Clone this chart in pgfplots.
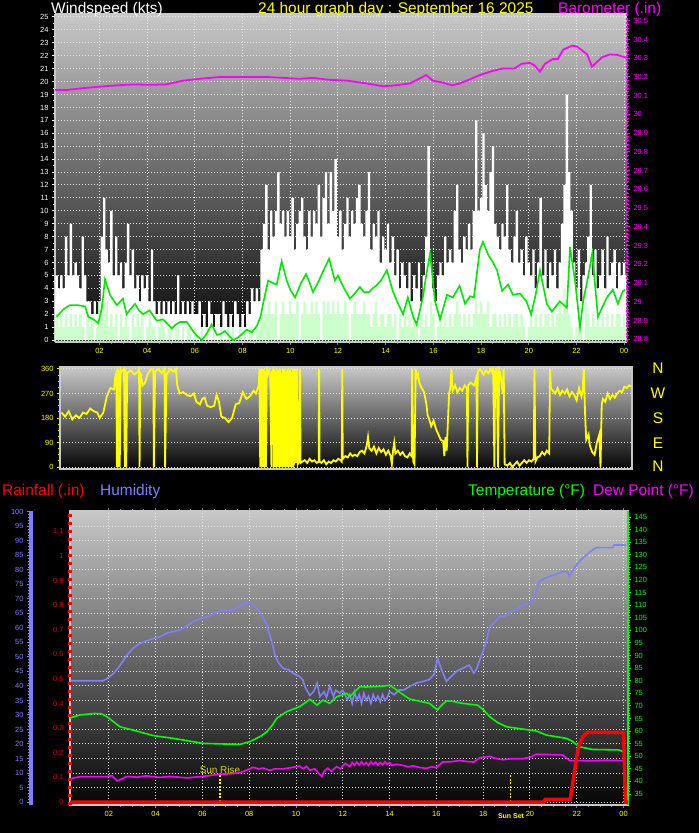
\documentclass[border=0pt]{standalone}
\usepackage{pgfplots}
\pgfplotsset{compat=1.18}
\usepackage{pgfplotstable}
\usepackage{fontspec}
\setmainfont{Liberation Sans}

\definecolor{gustc}{RGB}{255,255,255}
\definecolor{windc}{RGB}{204,255,204}
\definecolor{avgc}{RGB}{0,230,0}
\definecolor{baroc}{RGB}{255,0,255}
\definecolor{yel}{RGB}{255,255,0}
\definecolor{humc}{RGB}{128,128,255}
\definecolor{rainc}{RGB}{255,0,0}
\definecolor{raintxt}{RGB}{215,0,0}
\definecolor{tempc}{RGB}{0,255,0}
\definecolor{dewc}{RGB}{255,0,255}
\definecolor{gridc}{RGB}{230,230,230}
\definecolor{bgtop}{RGB}{200,200,200}
\definecolor{bgbot}{RGB}{5,5,5}
\definecolor{framec}{RGB}{200,200,200}

\newcommand{\tickfont}{\fontsize{7.5}{8}\selectfont}
\newcommand{\headfont}{\fontsize{15.5}{17}\selectfont}

\pgfplotsset{
  panel/.style={
    scale only axis, anchor=north west,
    axis background/.style={top color=bgtop, bottom color=bgbot},
    grid=major,
    grid style={gridc, dash pattern=on 1bp off 2bp, line width=1bp},
    tick label style={font=\tickfont},
    tick align=outside,
    /pgf/number format/assume math mode=true,
  },
  overlay/.style={
    scale only axis, anchor=north west, hide x axis,
    tick label style={font=\tickfont},
    tick align=outside,
    /pgf/number format/assume math mode=true,
  },
}

% wind: time (h), gust (g), speed (w), kts
\pgfplotstableread[row sep=\\]{
h g w\\
0.1 3 1\\ 0.2 5 2\\ 0.3 4 1\\ 0.4 5 2\\ 0.5 4 1\\ 0.6 8 2\\ 0.7 5 1\\ 0.8 9 2\\ 0.9 5 1\\
1.0 6 2\\ 1.1 5 1\\ 1.2 4 2\\ 1.3 8 1\\ 1.4 5 0\\ 1.5 3 2\\ 1.6 3 1\\ 1.7 2 2\\ 1.8 3 0\\ 1.9 2 1\\
2.0 3 3\\ 2.1 8 3\\ 2.2 11 2\\ 2.3 7 3\\ 2.4 6 1\\ 2.5 10 2\\ 2.6 5 1\\ 2.7 8 2\\ 2.8 5 0\\ 2.9 6 2\\
3.0 4 1\\ 3.1 6 2\\ 3.2 9 1\\ 3.3 5 0\\ 3.4 7 2\\ 3.5 4 1\\ 3.6 5 2\\ 3.7 3 1\\ 3.8 5 2\\ 3.9 4 0\\
4.0 5 1\\ 4.1 3 2\\ 4.2 7 1\\ 4.3 3 1\\ 4.4 2 0\\ 4.5 3 1\\ 4.6 2 2\\ 4.7 3 1\\ 4.8 2 0\\ 4.9 3 1\\
5.0 2 1\\ 5.1 3 0\\ 5.2 2 1\\ 5.3 5 1\\ 5.4 2 0\\ 5.5 3 1\\ 5.6 2 0\\ 5.7 3 1\\ 5.8 2 1\\ 5.9 3 0\\
6.0 2 1\\ 6.1 2 0\\ 6.2 3 0\\ 6.3 1 1\\ 6.4 2 0\\ 6.5 1 1\\ 6.6 3 0\\ 6.7 2 0\\ 6.8 1 1\\ 6.9 2 0\\
7.0 2 0\\ 7.1 1 1\\ 7.2 3 0\\ 7.3 2 0\\ 7.4 1 1\\ 7.5 2 0\\ 7.6 1 1\\ 7.7 3 0\\ 7.8 2 0\\ 7.9 1 1\\
8.0 2 0\\ 8.1 1 1\\ 8.2 3 0\\ 8.3 2 1\\ 8.4 4 1\\ 8.5 3 0\\ 8.6 4 1\\ 8.7 3 1\\ 8.8 7 2\\ 8.9 9 2\\
9.0 12 2\\ 9.1 7 3\\ 9.2 10 2\\ 9.3 8 2\\ 9.4 10 3\\ 9.5 13 0\\ 9.6 9 2\\ 9.7 10 3\\ 9.8 8 2\\ 9.9 10 2\\
10.0 8 3\\ 10.1 11 2\\ 10.2 7 2\\ 10.3 9 3\\ 10.4 10 0\\ 10.5 11 2\\ 10.6 8 3\\ 10.7 7 2\\ 10.8 10 2\\ 10.9 8 3\\
11.0 10 2\\ 11.1 9 3\\ 11.2 12 2\\ 11.3 8 0\\ 11.4 11 3\\ 11.5 13 2\\ 11.6 9 3\\ 11.7 13 2\\ 11.8 10 3\\ 11.9 14 2\\
12.0 8 3\\ 12.1 10 2\\ 12.2 7 2\\ 12.3 9 3\\ 12.4 11 2\\ 12.5 8 0\\ 12.6 10 2\\ 12.7 9 3\\ 12.8 11 2\\ 12.9 12 2\\
13.0 9 2\\ 13.1 8 3\\ 13.2 10 2\\ 13.3 13 2\\ 13.4 7 1\\ 13.5 9 2\\ 13.6 8 3\\ 13.7 10 1\\ 13.8 6 2\\ 13.9 8 2\\
14.0 7 1\\ 14.1 9 2\\ 14.2 6 2\\ 14.3 8 1\\ 14.4 5 2\\ 14.5 7 0\\ 14.6 4 2\\ 14.7 6 1\\ 14.8 5 2\\ 14.9 4 1\\
15.0 6 2\\ 15.1 3 1\\ 15.2 5 2\\ 15.3 4 1\\ 15.4 6 0\\ 15.5 3 2\\ 15.6 5 1\\ 15.7 8 2\\ 15.8 15 1\\ 15.9 6 3\\
16.0 4 2\\ 16.1 3 0\\ 16.2 5 1\\ 16.3 6 2\\ 16.4 5 1\\ 16.5 8 2\\ 16.6 6 1\\ 16.7 7 2\\ 16.8 6 1\\ 16.9 10 2\\
17.0 12 3\\ 17.1 7 2\\ 17.2 6 1\\ 17.3 8 2\\ 17.4 7 1\\ 17.5 9 2\\ 17.6 7 1\\ 17.7 10 2\\ 17.8 17 3\\ 17.9 10 2\\
18.0 11 3\\ 18.1 16 2\\ 18.2 12 2\\ 18.3 10 3\\ 18.4 13 1\\ 18.5 15 2\\ 18.6 9 2\\ 18.7 8 1\\ 18.8 7 2\\ 18.9 9 1\\
19.0 8 2\\ 19.1 12 1\\ 19.2 7 2\\ 19.3 6 1\\ 19.4 8 2\\ 19.5 10 2\\ 19.6 6 1\\ 19.7 7 2\\ 19.8 5 1\\ 19.9 8 0\\
20.0 6 1\\ 20.1 5 2\\ 20.2 7 1\\ 20.3 4 2\\ 20.4 6 1\\ 20.5 11 2\\ 20.6 5 1\\ 20.7 7 2\\ 20.8 4 2\\ 20.9 6 1\\
21.0 5 2\\ 21.1 7 1\\ 21.2 4 2\\ 21.3 6 3\\ 21.4 9 2\\ 21.5 12 4\\ 21.6 19 3\\ 21.7 13 2\\ 21.8 10 1\\ 21.9 6 0\\
22.0 4 1\\ 22.1 7 2\\ 22.2 3 1\\ 22.3 5 0\\ 22.4 6 3\\ 22.5 8 2\\ 22.6 12 1\\ 22.7 5 2\\ 22.8 7 1\\ 22.9 4 2\\
23.0 5 1\\ 23.1 7 2\\ 23.2 4 1\\ 23.3 8 2\\ 23.4 5 1\\ 23.5 6 2\\ 23.6 7 1\\ 23.7 4 2\\ 23.8 6 2\\ 23.9 5 1\\
24.0 6 2\\ 24.1 5 1\\
}\windtab

\begin{document}
\begin{tikzpicture}
\useasboundingbox (0,0) rectangle (699bp,-833bp);
\fill[black] (0,0) rectangle (699bp,-833bp);

% ---------------- top panel: wind speed + barometer
\begin{axis}[panel, at={(55bp,-14bp)}, width=572bp, height=328bp,
  xmin=0.134, xmax=24.12, ymin=-0.15, ymax=25.23,
  axis x line*=bottom, axis y line*=left,
  axis line style={framec, line width=1.5bp},
  xtick={2,4,...,24}, xticklabels={02,04,06,08,10,12,14,16,18,20,22,00},
  minor x tick num=3,
  ytick={0,...,25}, minor y tick num=1,
  x tick style={gray, line width=1bp},
  y tick style={white, line width=1bp},
  major tick length=3bp, minor tick length=2bp,
  xticklabel style={yel}, yticklabel style={white},
]
\addplot[const plot mark mid, fill=gustc, draw=none] table[x=h, y=g] {\windtab} \closedcycle;
\addplot[const plot mark mid, fill=windc, draw=none] table[x=h, y=w] {\windtab} \closedcycle;
\addplot[avgc, line width=1.6bp] coordinates {
(0.2,1.8)(0.5,2.4)(0.76,2.7)(1.1,2.7)(1.4,2.6)(1.53,1.8)(1.75,1.6)(1.95,1.3)(2.1,2.5)
(2.23,4.7)(2.44,3.5)(2.73,2.7)(2.98,3.2)(3.14,2.0)(3.3,2.4)(3.49,2.8)(3.65,2.3)(3.83,2.0)
(4.1,2.3)(4.4,1.5)(4.67,1.6)(5.03,0.9)(5.2,1.2)(5.37,1.4)(5.66,1.4)(5.92,0.7)(6.1,0.3)
(6.3,0.0)(6.5,0.5)(6.7,1.2)(6.93,0.4)(7.1,0.5)(7.26,0.7)(7.45,0.3)(7.6,0.0)(7.81,0.2)
(8.0,0.5)(8.18,0.8)(8.39,0.6)(8.6,1.1)(8.75,1.8)(8.86,2.8)(9.07,4.6)(9.28,4.4)(9.43,4.3)
(9.64,6.1)(9.85,4.6)(10.0,3.9)(10.2,3.3)(10.45,4.4)(10.66,5.1)(10.8,4.5)(10.95,3.7)
(11.15,4.4)(11.37,5.3)(11.63,6.3)(11.87,4.6)(12.0,5.0)(12.2,4.2)(12.5,3.2)(12.7,3.6)
(12.92,4.1)(13.1,3.7)(13.3,3.7)(13.45,4.0)(13.6,4.2)(13.8,4.6)(14.05,5.4)(14.3,3.8)
(14.5,2.9)(14.73,2.0)(14.93,3.3)(15.15,1.8)(15.3,1.2)(15.56,3.3)(15.7,5.0)(15.86,6.7)
(16.07,3.0)(16.28,1.6)(16.57,3.5)(16.82,3.3)(17.1,4.2)(17.33,2.8)(17.54,3.4)(17.7,3.3)
(17.95,7.0)(18.08,7.6)(18.3,6.6)(18.5,6.0)(18.67,5.4)(18.88,3.8)(19.13,4.3)(19.34,3.5)
(19.63,3.6)(19.9,3.0)(20.1,2.0)(20.3,3.6)(20.47,5.4)(20.76,2.8)(20.97,2.2)(21.3,3.0)
(21.6,2.5)(21.73,7.2)(21.94,4.6)(22.15,1.0)(22.28,3.0)(22.5,5.0)(22.66,6.7)(22.9,1.8)
(23.1,2.6)(23.28,3.3)(23.53,3.9)(23.74,2.8)(23.95,3.8)(24.05,3.9)
};
\end{axis}

\begin{axis}[overlay, at={(55bp,-14bp)}, width=572bp, height=328bp,
  xmin=0.134, xmax=24.12, ymin=28.785, ymax=30.536,
  axis y line*=right,
  axis line style={baroc, line width=1.5bp, dash pattern=on 2bp off 1.7bp},
  ytick={28.8,28.9,29,29.1,29.2,29.3,29.4,29.5,29.6,29.7,29.8,29.9,30,30.1,30.2,30.3,30.4,30.5},
  yticklabels={28.8,28.9,29,29.1,29.2,29.3,29.4,29.5,29.6,29.7,29.8,29.9,30,30.1,30.2,30.3,30.4,30.5},
  minor y tick num=4,
  tick style={baroc, line width=1bp}, major tick length=3bp, minor tick length=2bp,
  yticklabel style={baroc},
]
\addplot[baroc, line width=1.8bp] coordinates {
(0.13,30.13)(0.63,30.13)(1.3,30.14)(2.0,30.148)(2.7,30.155)(3.4,30.16)(4.1,30.158)
(4.8,30.16)(5.5,30.18)(6.2,30.19)(7.05,30.2)(8.0,30.2)(9.0,30.2)(9.7,30.195)(10.4,30.19)
(10.96,30.195)(11.6,30.185)(12.4,30.18)(13.2,30.165)(13.9,30.15)(14.4,30.155)(15.0,30.165)
(15.4,30.19)(15.7,30.21)(15.98,30.18)(16.4,30.17)(16.78,30.155)(17.1,30.165)(17.4,30.18)
(17.95,30.21)(18.5,30.233)(18.92,30.245)(19.4,30.245)(19.7,30.27)(20.05,30.275)
(20.26,30.26)(20.47,30.228)(20.68,30.27)(21.0,30.295)(21.22,30.295)(21.44,30.345)
(21.82,30.367)(22.02,30.362)(22.3,30.335)(22.45,30.32)(22.65,30.255)(22.78,30.27)
(23.07,30.305)(23.4,30.32)(23.7,30.318)(24.03,30.305)(24.1,30.3)
};
\end{axis}

% ---------------- middle panel: wind direction
\begin{axis}[panel, at={(60bp,-367bp)}, width=572bp, height=102bp,
  xmin=0.134, xmax=24.12, ymin=-7.3, ymax=367.3,
  xtick=\empty, xmajorgrids=false,
  ytick={0,90,180,270,360}, minor y tick num=3, ytick pos=left,
  axis line style={framec, line width=1.2bp},
  tick style={yel, line width=1bp}, major tick length=3bp, minor tick length=2bp,
  yticklabel style={yel},
]
\addplot[yel, line width=1.8bp] coordinates {
(0.2,200)(0.35,185)(0.5,205)(0.65,175)(0.8,190)(0.95,180)(1.1,200)(1.25,195)(1.4,215)
(1.55,205)(1.7,200)(1.8,180)(1.95,200)(2.1,260)(2.25,290)(2.4,285)(2.45,330)(2.5,345)
(2.52,0)(2.55,360)(2.58,0)(2.61,355)(2.64,0)(2.67,360)(2.7,350)(2.76,355)(2.82,360)
(2.85,0)(2.88,360)(2.91,0)(2.95,345)(3.1,355)(3.25,340)(3.4,350)(3.45,360)(3.47,0)
(3.5,350)(3.6,300)(3.7,310)(3.8,340)(3.95,360)(4.05,355)(4.07,0)(4.12,350)(4.25,360)
(4.4,345)(4.52,360)(4.54,0)(4.6,340)(4.75,360)(4.9,350)(5.0,360)(5.05,300)(5.15,270)
(5.3,275)(5.45,265)(5.6,260)(5.75,270)(5.85,240)(6.0,230)(6.1,250)(6.2,255)(6.3,225)
(6.45,220)(6.6,225)(6.7,265)(6.8,240)(6.9,185)(7.05,180)(7.2,165)(7.35,180)(7.5,230)
(7.65,235)(7.8,275)(7.95,250)(8.1,260)(8.25,280)(8.35,270)(8.47,300)
(8.5,360)(8.53,0)(8.56,360)(8.59,0)(8.62,360)(8.65,0)(8.68,360)(8.71,0)(8.74,350)
(8.77,0)(8.8,360)(8.85,340)(8.9,355)(8.95,340)(9.0,0)(9.03,350)(9.08,360)(9.1,0)
(9.13,360)(9.16,0)(9.19,350)(9.22,0)(9.25,360)(9.28,0)(9.31,355)(9.34,0)(9.37,360)
(9.4,0)(9.43,345)(9.46,0)(9.49,360)(9.52,0)(9.55,360)(9.58,0)(9.61,350)(9.64,0)
(9.67,360)(9.7,0)(9.73,355)(9.76,0)(9.79,360)(9.82,0)(9.85,350)(9.88,0)(9.91,360)
(9.94,10)(9.98,20)(10.0,360)(10.03,15)(10.08,360)(10.1,10)(10.15,20)(10.2,360)
(10.22,15)(10.3,20)(10.4,25)(10.5,15)(10.6,30)(10.7,20)(10.8,25)(10.9,15)(10.98,20)
(11.0,360)(11.02,20)(11.1,15)(11.2,25)(11.3,10)(11.4,20)(11.5,15)(11.6,25)(11.7,20)
(11.8,30)(11.9,25)(11.95,20)(11.97,360)(11.99,30)(12.1,40)(12.2,35)(12.3,50)(12.4,40)
(12.5,45)(12.6,40)(12.7,55)(12.8,60)(12.9,50)(13.0,80)(13.05,110)(13.1,70)(13.2,60)
(13.3,75)(13.4,50)(13.5,70)(13.6,55)(13.7,65)(13.8,45)(13.9,60)(14.0,40)(14.05,10)
(14.1,60)(14.15,90)(14.2,50)(14.3,60)(14.4,45)(14.5,55)(14.6,40)(14.7,35)(14.8,50)
(14.88,40)(14.9,360)(14.95,20)(15.0,10)(15.05,360)(15.1,330)(15.15,340)(15.2,310)
(15.3,290)(15.4,275)(15.5,230)(15.55,190)(15.6,180)(15.7,150)(15.8,170)(15.9,140)
(16.0,120)(16.1,100)(16.2,95)(16.25,40)(16.3,110)(16.35,60)(16.45,270)(16.5,290)
(16.55,360)(16.6,280)(16.7,300)(16.8,275)(16.9,290)(17.0,280)(17.1,300)(17.2,290)
(17.22,0)(17.25,300)(17.35,310)(17.5,300)(17.6,330)(17.62,0)(17.65,350)(17.75,360)
(17.9,340)(18.0,355)(18.1,345)(18.2,360)(18.25,350)(18.3,360)(18.35,0)(18.38,350)
(18.45,360)(18.5,0)(18.55,360)(18.6,340)(18.7,270)(18.74,360)(18.78,10)(18.9,5)
(19.0,15)(19.1,0)(19.2,10)(19.3,20)(19.4,5)(19.5,15)(19.6,25)(19.7,15)(19.8,25)
(19.9,20)(20.0,30)(20.03,360)(20.07,20)(20.15,35)(20.25,40)(20.35,55)(20.45,45)
(20.55,60)(20.65,50)(20.68,360)(20.72,290)(20.8,280)(20.9,270)(21.0,290)(21.1,265)
(21.2,280)(21.3,270)(21.4,285)(21.5,260)(21.6,275)(21.7,265)(21.8,245)(21.9,290)
(22.0,260)(22.05,280)(22.1,360)(22.15,200)(22.2,100)(22.3,120)(22.35,80)(22.45,55)
(22.55,45)(22.65,90)(22.75,120)(22.8,0)(22.85,230)(22.9,250)(23.0,240)(23.1,270)
(23.2,250)(23.3,265)(23.4,255)(23.5,270)(23.6,280)(23.7,275)(23.8,295)(23.9,290)
(24.0,300)(24.1,295)
};
\end{axis}

% ---------------- bottom panel: humidity (main), rain, temperature
\begin{axis}[panel, at={(70bp,-511bp)}, width=558bp, height=294bp,
  xmin=0.34, xmax=24.19, ymin=-1.03, ymax=100.3,
  xtick={2,4,...,24}, xticklabels={02,04,06,08,10,12,14,16,18,20,22,00},
  minor x tick num=3,
  ytick={0,5,...,100}, yticklabels={}, y tick style={draw=none},
  x tick style={gray, line width=1bp}, major tick length=3bp, minor tick length=2bp,
  axis line style={framec, line width=1.5bp},
  xticklabel style={yel},
]
\addplot[humc, line width=1.6bp] coordinates {
(0.3,41.8)(1.0,41.8)(1.75,41.8)(1.92,42.5)(2.2,44.3)(2.48,47.1)(2.78,50.7)(3.03,53)
(3.33,54.7)(3.6,55.5)(3.9,56.4)(4.2,57)(4.48,58.2)(5.04,59.3)(5.3,60.5)(5.6,62.2)
(5.9,63.2)(6.19,63.9)(6.5,65)(6.75,65.9)(7.3,66.2)(7.6,67.4)(7.81,68.7)(8.0,68.5)
(8.16,67.9)(8.3,67)(8.45,65.6)(8.6,63.5)(8.75,61)(8.96,55.3)(9.1,50.7)(9.25,48)
(9.44,46.1)(9.7,45.5)(9.87,44.4)(10.16,43.2)(10.3,42)(10.38,39.8)(10.5,38)(10.59,36.7)
(10.75,38)(10.9,41)(11.02,36.3)(11.2,38)(11.3,36)(11.44,40)(11.6,36.3)(11.7,38.5)
(11.87,37.5)(12.0,38.5)(12.2,35.3)(12.3,37)(12.4,34)(12.5,38)(12.6,35)(12.7,37)
(12.8,34)(12.9,37.5)(13.0,35)(13.1,36.5)(13.2,34)(13.3,37)(13.4,35)(13.5,36.5)
(13.6,34.5)(13.7,37)(13.8,35)(13.9,36)(14.0,38)(14.2,37)(14.4,38.6)(14.6,38.6)
(14.9,40)(15.15,41)(15.4,41.5)(15.7,42.2)(15.9,44)(16.05,49.5)(16.2,46)(16.43,41.6)
(16.6,43)(16.85,45)(17.1,46)(17.4,47.2)(17.6,44.4)(17.7,45.5)(17.85,48.9)(18.0,52)
(18.15,56)(18.28,60.4)(18.5,62)(18.7,63.9)(18.9,64)(19.13,65.6)(19.4,66.2)(19.68,67.9)
(19.9,68.2)(20.1,69.1)(20.25,72)(20.4,76)(20.6,77)(20.84,77.7)(21.1,78.5)(21.4,79.4)
(21.6,79.4)(21.69,77.7)(21.8,79.5)(21.99,81.7)(22.25,84)(22.54,86.1)(22.84,87.7)
(23.53,87.7)(23.6,88.6)(24.1,88.6)
};
\draw[yel, line width=1.2bp, dash pattern=on 2bp off 1.5bp] (axis cs:6.75,9.3) -- (axis cs:6.75,-1.03);
\draw[yel, line width=1.2bp, dash pattern=on 2bp off 1.5bp] (axis cs:19.17,9.3) -- (axis cs:19.17,-1.03);
\node[yel!85!black, font=\fontsize{10}{11}\selectfont, anchor=base] at (axis cs:6.75,9.8) {Sun Rise};
\end{axis}

\begin{axis}[overlay, at={(70bp,-511bp)}, width=558bp, height=294bp,
  xmin=0.34, xmax=24.19, ymin=30.63, ymax=147.4,
  axis y line*=right, axis line style={tempc, line width=1.5bp},
  ytick={35,40,...,145}, minor y tick num=4,
  tick style={tempc, line width=1bp}, major tick length=3bp, minor tick length=2bp,
  yticklabel style={tempc},
]
\addplot[tempc, line width=1.6bp] coordinates {
(0.3,65.1)(0.77,66.4)(1.4,67.0)(1.7,66.8)(1.92,65.7)(2.2,63.7)(2.48,61.7)(3.03,60.4)
(3.5,59.2)(3.9,58.2)(4.75,57.1)(5.34,56.2)(6.03,55.1)(7.6,54.7)(8.03,55.8)(8.5,58)
(8.75,59.7)(9.0,62.5)(9.18,65.1)(9.6,67.7)(10.16,69.7)(10.59,72.6)(10.75,71.5)
(10.89,70.3)(11.15,72.3)(11.44,71)(11.74,73.6)(12.17,75)(12.3,73.6)(12.72,77.6)
(13.0,77.5)(13.7,77.8)(14.0,78.2)(14.2,77)(14.43,75.4)(14.86,72.7)(15.71,71)(15.9,69.5)
(16.05,68.4)(16.2,70)(16.43,72)(16.7,71.8)(17.12,71)(17.76,70.3)(18.0,68.5)(18.28,65.7)
(18.6,63.5)(19.0,61.7)(19.68,60.8)(20.28,60)(20.7,58.4)(21.56,57.1)(21.8,56)(22.1,53.8)
(22.67,52.7)(23.8,52.5)(24.1,51.4)
};
\addplot[dewc, line width=1.6bp] coordinates {
(0.3,41)(0.77,41.9)(1.92,41.9)(2.13,42.3)(2.35,40.2)(2.55,41)(2.78,42)(3.2,41.7)
(3.6,42.2)(4.18,41.6)(4.6,42)(5.34,41.4)(5.8,41.8)(6.3,42.3)(6.75,42.9)(7.2,43)
(7.6,43.5)(7.9,44.5)(8.16,45.6)(8.4,45)(8.6,45.3)(8.88,44.4)(9.1,45)(9.44,45)(9.8,45.5)
(10.16,46.1)(10.3,45)(10.45,46)(10.59,44.4)(10.8,45)(11.1,41.9)(11.2,44)(11.36,45.3)
(11.5,44)(11.74,45.9)(11.9,45)(12.1,47.2)(12.3,45.9)(12.4,47.5)(12.5,46.4)(12.6,47.7)
(12.7,46.5)(12.8,47.8)(12.9,46.6)(13.0,47.5)(13.1,46.4)(13.2,47.8)(13.3,46.8)(13.4,47.6)
(13.5,46.5)(13.6,47.5)(13.7,46.6)(13.8,47.8)(13.9,46.8)(14.0,47.5)(14.1,46.4)(14.3,46.8)
(14.56,46.4)(14.8,45.8)(15.0,46.2)(15.3,45.5)(15.58,45.2)(15.8,45.8)(16.0,45.5)
(16.27,47.7)(16.6,47.8)(17.0,48.3)(17.3,47.9)(17.6,47.7)(17.85,49.4)(18.05,49.6)
(18.28,50)(18.5,49.2)(18.83,48.6)(19.2,49)(19.68,49)(20.0,49.6)(20.28,50.8)(20.8,50.7)
(21.4,50.5)(21.69,48.3)(22.5,48.2)(23.3,48.4)(24.1,48.2)
};
\end{axis}

\begin{axis}[overlay, at={(70bp,-511bp)}, width=558bp, height=294bp,
  xmin=0.34, xmax=24.19, ymin=-0.0122, ymax=1.183,
  axis y line*=left,
  axis line style={rainc, line width=3.5bp, dash pattern=on 3.5bp off 4.5bp},
  ytick={0,0.1,0.2,0.3,0.4,0.5,0.6,0.7,0.8,0.9,1,1.1},
  yticklabels={0,0.1,0.2,0.3,0.4,0.5,0.6,0.7,0.8,0.9,1,1.1},
  major tick length=0bp, minor tick length=0bp,
  yticklabel style={raintxt, xshift=-3bp},
]
\addplot[rainc, line width=3.5bp] coordinates {
(0.3,0)(20.6,0)(20.65,0.011)(21.72,0.011)(21.8,0.06)(22.0,0.184)(22.1,0.232)
(22.25,0.265)(22.46,0.283)(24.0,0.283)(24.08,0)(24.19,0)
};
\end{axis}

% humidity scale on the far left
\begin{axis}[overlay, at={(31bp,-511bp)}, width=1bp, height=294bp,
  xmin=0, xmax=1, ymin=-1.03, ymax=100.3,
  axis y line*=left, axis line style={humc, line width=3bp},
  ytick={0,5,...,100}, minor y tick num=4,
  tick style={humc, line width=1bp}, major tick length=4bp, minor tick length=3bp,
  yticklabel style={humc},
]
\end{axis}

% ---------------- texts
\node[white, font=\headfont, anchor=base west, inner sep=0] at (51bp,-13.3bp) {Windspeed (kts)};
\node[yel, font=\headfont, anchor=base west, inner sep=0] at (258bp,-13.3bp) {24 hour graph day : September 16 2025};
\node[baroc, font=\headfont, anchor=base west, inner sep=0] at (558bp,-13.3bp) {Barometer (.in)};

\node[rainc, font=\headfont, anchor=base west, inner sep=0] at (2bp,-495.7bp) {Rainfall (.in)};
\node[humc, font=\headfont, anchor=base west, inner sep=0] at (100bp,-495.7bp) {Humidity};
\node[tempc, font=\headfont, anchor=base west, inner sep=0] at (468bp,-495.7bp) {Temperature (°F)};
\node[dewc, font=\headfont, anchor=base west, inner sep=0] at (593bp,-495.7bp) {Dew Point (°F)};

\foreach \l/\yy in {N/368,W/393,S/418,E/443,N/466}
  \node[yel, font=\headfont, inner sep=0] at (658bp,-\yy bp) {\l};

\node[yel, font=\bfseries\fontsize{7}{8}\selectfont, inner sep=0] at (511bp,-816bp) {Sun Set};
\end{tikzpicture}
\end{document}
